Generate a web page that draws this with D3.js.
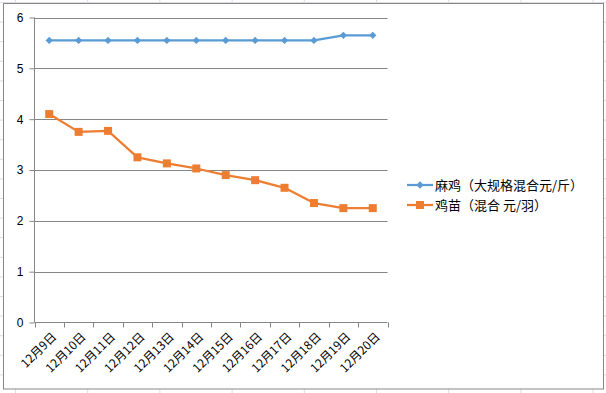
<!DOCTYPE html>
<meta charset="utf-8">
<head>
  <style>
    body { margin: 0; background: #fff; }
    svg { display: block; font-family: "Noto Sans CJK SC", "DejaVu Sans", sans-serif; }
    .grid line { stroke: #868686; stroke-width: 1; }
    .axis path, .axis line { stroke: #868686; }
    .axis text { fill: #000; font-size: 12px; }
    .legend text { font-size: 13px; fill: #000; }
    path.line { fill: none; stroke-width: 2.25; stroke-linejoin: round; }
  </style>
  <script src="https://cdn.jsdelivr.net/npm/d3@7"></script>
</head>
<body>
<script>
  var dates = ["12月9日", "12月10日", "12月11日", "12月12日", "12月13日", "12月14日",
               "12月15日", "12月16日", "12月17日", "12月18日", "12月19日", "12月20日"];
  var maji = [5.55, 5.55, 5.55, 5.55, 5.55, 5.55, 5.55, 5.55, 5.55, 5.55, 5.65, 5.65];
  var jimiao = [4.1, 3.75, 3.77, 3.25, 3.13, 3.03, 2.9, 2.8, 2.65, 2.35, 2.25, 2.25];
  var seriesNames = ["麻鸡（大规格混合元/斤）", "鸡苗（混合 元/羽）"];
  var yTicks = [0, 1, 2, 3, 4, 5, 6];

  var W = 606, H = 393;
  var svg = d3.select("body").append("svg").attr("width", W).attr("height", H);

  // faint spreadsheet cells behind the chart
  var bg = svg.append("g").attr("stroke", "#dadce8").attr("stroke-width", 1);
  d3.range(15, W, 72.2).forEach(function (xx) {
    bg.append("line").attr("x1", xx + 0.5).attr("x2", xx + 0.5).attr("y1", 0).attr("y2", H);
  });
  d3.range(2, H, 19.6).forEach(function (yy) {
    bg.append("line").attr("x1", 0).attr("x2", W).attr("y1", yy + 0.5).attr("y2", yy + 0.5);
  });

  // chart frame
  svg.append("rect").attr("x", 3.5).attr("y", 3.5).attr("width", 600).attr("height", 385.5)
     .attr("fill", "#fff").attr("stroke", "#868686");

  var pLeft = 34.5, pRight = 387.5, pTop = 17.5, pBottom = 322.5;
  var x = d3.scaleBand().domain(dates).range([pLeft, pRight]);
  var y = d3.scaleLinear().domain([0, 6]).range([pBottom, pTop]);

  // horizontal gridlines
  svg.append("g").attr("class", "grid")
    .selectAll("line").data(yTicks.slice(1)).enter().append("line")
    .attr("x1", pLeft).attr("x2", pRight)
    .attr("y1", function (d) { return Math.round(y(d)) + 0.5; })
    .attr("y2", function (d) { return Math.round(y(d)) + 0.5; });

  // y axis
  var yAxis = svg.append("g").attr("class", "axis")
    .attr("transform", "translate(" + pLeft + ",0)")
    .call(d3.axisLeft(y).tickValues(yTicks).tickSize(5).tickPadding(6).tickFormat(d3.format("d")));
  yAxis.select(".domain").attr("d", "M0," + pTop + "V" + pBottom);

  // x axis with ticks on category boundaries
  var xg = svg.append("g").attr("class", "axis").attr("transform", "translate(0," + pBottom + ")");
  xg.append("line").attr("x1", pLeft).attr("x2", pRight).attr("y1", 0).attr("y2", 0);
  xg.selectAll(".tk").data(d3.range(dates.length + 1)).enter().append("line")
    .attr("class", "tk")
    .attr("x1", function (i) { return Math.round(pLeft + i * x.bandwidth()) + 0.5; })
    .attr("x2", function (i) { return Math.round(pLeft + i * x.bandwidth()) + 0.5; })
    .attr("y1", 0).attr("y2", 5);
  xg.selectAll("text").data(dates).enter().append("text")
    .attr("text-anchor", "end")
    .attr("transform", function (d) {
      return "translate(" + (x(d) + x.bandwidth() / 2 + 5) + ",12) rotate(-45)";
    })
    .attr("dy", "0.35em")
    .text(function (d) { return d; });

  var cx = function (d, i) { return x(dates[i]) + x.bandwidth() / 2; };
  var lineGen = d3.line().x(function (d, i) { return cx(d, i); }).y(function (d) { return y(d); });

  var blue = "#5b9bd5", orange = "#ed7d31";

  svg.append("path").datum(maji).attr("class", "line").attr("stroke", blue).attr("d", lineGen);
  svg.append("path").datum(jimiao).attr("class", "line").attr("stroke", orange).attr("d", lineGen);

  svg.append("g").selectAll("path").data(maji).enter().append("path")
    .attr("fill", blue)
    .attr("d", d3.symbol().type(d3.symbolDiamond2).size(34))
    .attr("transform", function (d, i) { return "translate(" + cx(d, i) + "," + y(d) + ")"; });

  svg.append("g").selectAll("rect").data(jimiao).enter().append("rect")
    .attr("fill", orange)
    .attr("x", function (d, i) { return cx(d, i) - 4; })
    .attr("y", function (d) { return y(d) - 4; })
    .attr("width", 8).attr("height", 8);

  // legend
  var legend = svg.append("g").attr("class", "legend");
  var colors = [blue, orange];
  seriesNames.forEach(function (name, i) {
    var ly = 185 + i * 20;
    var g = legend.append("g");
    g.append("line").attr("x1", 407).attr("x2", 433).attr("y1", ly).attr("y2", ly)
      .attr("stroke", colors[i]).attr("stroke-width", 2.25);
    if (i === 0) {
      g.append("path").attr("fill", blue)
        .attr("d", d3.symbol().type(d3.symbolDiamond2).size(34))
        .attr("transform", "translate(420," + ly + ")");
    } else {
      g.append("rect").attr("fill", orange).attr("x", 416).attr("y", ly - 4).attr("width", 8).attr("height", 8);
    }
    g.append("text").attr("x", 435).attr("y", ly).attr("dy", "0.35em").text(name);
  });
</script>
</body>
